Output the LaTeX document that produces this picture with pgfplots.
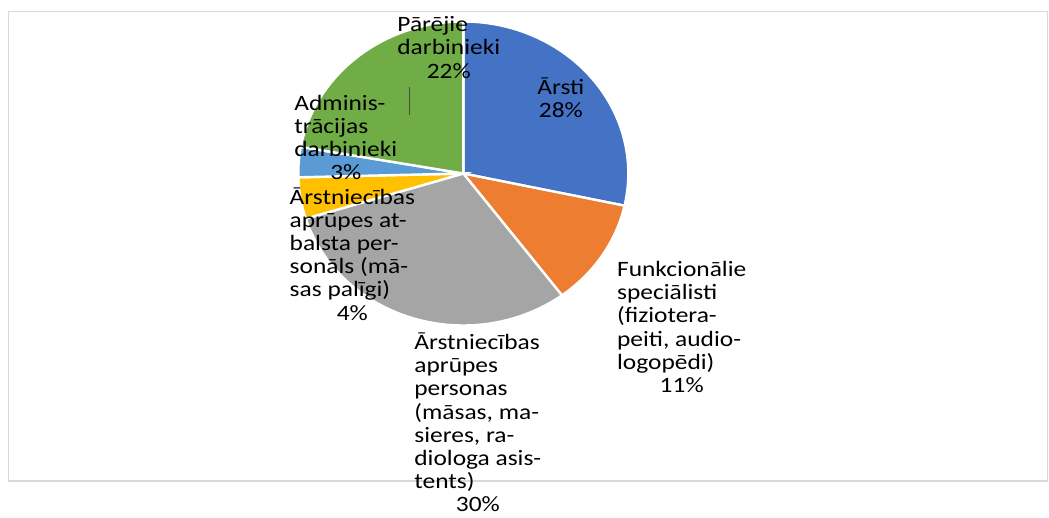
\documentclass[border=0pt]{standalone}
\usepackage{fontspec}
\setmainfont{Carlito}[FakeStretch=1.16]
\usepackage{pgfplots}
\pgfplotsset{compat=1.18}

\definecolor{pBlue}{HTML}{4472C4}
\definecolor{pOrange}{HTML}{ED7D31}
\definecolor{pGray}{HTML}{A5A5A5}
\definecolor{pYellow}{HTML}{FFC000}
\definecolor{pLBlue}{HTML}{5B9BD5}
\definecolor{pGreen}{HTML}{70AD47}
\definecolor{frameGray}{HTML}{D9D9D9}

\tikzset{lab/.style={font=\fontsize{11}{11.65}\selectfont, inner sep=0pt, anchor=base west}}

% label: category lines left aligned, share centred below
\newcommand\lbl[2]{\begin{tabular}[t]{@{}l@{}}#1\\\multicolumn{1}{@{}c@{}}{#2}\end{tabular}}

\begin{document}
\begin{tikzpicture}
\begin{axis}[
  scale only axis,
  width=524.5bp, height=259bp,
  xmin=0, xmax=1049,
  ymin=0, ymax=518,
  y dir=reverse,
  hide axis,
  clip=false,
]

%% chart frame
\draw[frameGray, line width=0.8bp] (axis cs:8.5,11.5) rectangle (axis cs:1047.5,481);

%% pie slices, clockwise from 12 o'clock (shares in %)
\xdef\angA{90}
\foreach \v/\c in {28.4/pBlue, 11.4/pOrange, 30.4/pGray, 4.4/pYellow, 3.2/pLBlue, 22.2/pGreen}{
  \pgfmathsetmacro\angB{\angA-3.6*\v}
  \edef\wedge{\noexpand\fill[\c, draw=white, line width=1.2bp]
    (axis cs:463.3,173.5) -- ++(\angA:82.5bp and 76bp)
    arc[start angle=\angA, end angle=\angB, x radius=82.5bp, y radius=76bp] -- cycle;}
  \wedge
  \xdef\angA{\angB}
}

%% leader line
\draw[black!70, line width=0.6bp] (axis cs:409.3,87) -- (axis cs:409.3,115);

%% data labels
\node[lab] at (axis cs:537,94.3) {\lbl{Ārsti}{28\%}};
\node[lab] at (axis cs:616.7,276.5)
  {\lbl{Funkcionālie\\speciālisti\\(fiziotera-\\peiti, audio-\\logopēdi)}{11\%}};
\node[lab] at (axis cs:414,349.5)
  {\lbl{Ārstniecības\\aprūpes\\personas\\(māsas, ma-\\sieres, ra-\\diologa asis-\\tents)}{30\%}};
\node[lab] at (axis cs:289.3,204)
  {\lbl{Ārstniecības\\aprūpes at-\\balsta per-\\sonāls (mā-\\sas palīgi)}{4\%}};
\node[lab] at (axis cs:294,110)
  {\lbl{Adminis-\\trācijas\\darbinieki}{3\%}};
\node[lab] at (axis cs:397,31.7)
  {\lbl{Pārējie\\darbinieki}{22\%}};

\end{axis}
\pgfresetboundingbox
\path[use as bounding box] (current axis.south west) rectangle (current axis.north east);
\end{tikzpicture}
\end{document}
